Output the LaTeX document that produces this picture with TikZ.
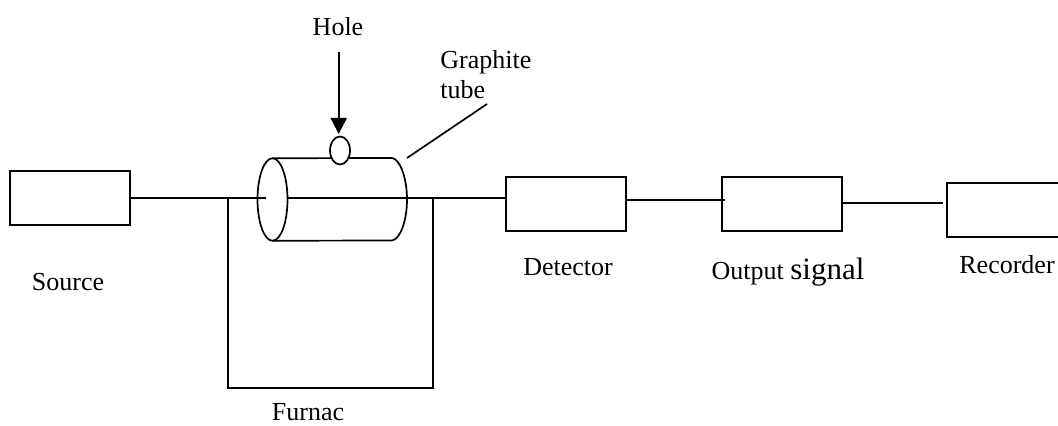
\documentclass[tikz,border=0pt]{standalone}
\usepackage{fontspec}
\setmainfont{Liberation Serif}
\usetikzlibrary{arrows.meta,shapes.geometric}
\tikzstyle{link} = [draw,line width=1pt,-]
\tikzstyle{thin link} = [draw,line width=0.85pt,-]

\begin{document}
\begin{tikzpicture}
[x=0.5pt,y=-0.5pt,
unit/.style={shape=rectangle,draw,line width=0.85pt,inner sep=0pt,outer sep=0pt,minimum height=27pt,minimum width=60pt},
tubeEnd/.style={shape=ellipse,draw,line width=0.85pt,inner sep=0pt,outer sep=0pt,minimum width=15pt,minimum height=41.25pt},
tubeHole/.style={shape=ellipse,draw,line width=0.85pt,fill=white,inner sep=0pt,outer sep=0pt,minimum width=10pt,minimum height=14pt},
label/.style={font=\fontsize{13}{15}\selectfont,inner sep=0pt}]

\useasboundingbox (0,0) rectangle (1058,426);

%% nodes or vertices
\foreach \nodename/\x/\y in {source/70/198, detector/566/204, output/782/204, recorder/1007/210}
{
\node (\nodename) at (\x,\y) [unit] {};
}
\node (tubeLeft) at (272.5,199.5) [tubeEnd] {};
\coordinate (tubeTop) at (392,158);
\coordinate (tubeBottom) at (392,240.5);
\coordinate (tubeRight) at (407,199.5);

\foreach \nodename/\x/\y/\text in {holeText/338/27/Hole, sourceText/68/282/Source, detectorText/568/267/Detector, recorderText/1007/265/Recorder, furnaceText/308/412/Furnac}
{
\node (\nodename) at (\x,\y) [label] {\text};
}
\node (graphiteText) at (440,75) [label,anchor=west,align=left] {Graphite\\tube};
\node (outputText) at (788,272) [label] {Output {\fontsize{15.5}{15}\selectfont signal}};

%% tube
\path[thin link] (tubeLeft.north) -- (tubeTop) .. controls (400,159) and (407,178) .. (tubeRight) .. controls (407,221) and (400,239.5) .. (tubeBottom) -- (tubeLeft.south);
\node (hole) at (340,150.5) [tubeHole] {};

%% edges or lines
\coordinate (beamIn) at (266,198);
\coordinate (beamOut) at (287,198);
\coordinate (furnaceLeft) at (228,198);
\coordinate (furnaceRight) at (433,198);
\coordinate (furnaceLeftLow) at (228,388);
\coordinate (furnaceRightLow) at (433,388);
\coordinate (arrowStart) at (338.7,52);
\coordinate (arrowEnd) at (338.7,134);
\coordinate (leaderStart) at (487,104);
\coordinate (leaderEnd) at (407,158);
\coordinate (linkA) at (626,200);
\coordinate (linkB) at (725,200);
\coordinate (linkC) at (843,203.5);
\coordinate (linkD) at (943,203.5);

\path[link] (source.east |- beamIn) -- (beamIn);
\path[link] (beamOut) -- (beamOut -| detector.west);
\path[link] (linkA) -- (linkB);
\path[link] (linkC) -- (linkD);
\path[thin link] (furnaceLeft) -- (furnaceLeftLow) -- (furnaceRightLow) -- (furnaceRight);
\path[link,-{Triangle[length=8pt,width=8pt]}] (arrowStart) -- (arrowEnd);
\path[thin link] (leaderStart) -- (leaderEnd);

\end{tikzpicture}
\end{document}
